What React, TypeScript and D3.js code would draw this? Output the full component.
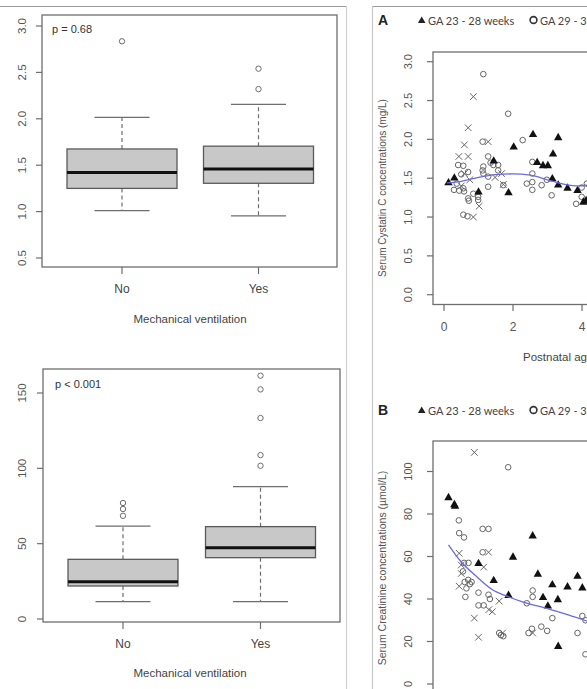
import React from "react";
import * as d3 from "d3";

// ---------- Data ----------
const groups = ["No", "Yes"];
// Cystatin C box stats (mg/L): [low whisker, Q1, median, Q3, high whisker]
const cysStats = [
  [1.01, 1.25, 1.42, 1.675, 2.015],
  [0.955, 1.305, 1.46, 1.705, 2.155],
];
const cysOutliers = [[2.835], [2.32, 2.54]];
const cysTicks = [0.5, 1.0, 1.5, 2.0, 2.5, 3.0];

// Creatinine box stats (µmol/L)
const creStats = [
  [11.5, 21.9, 24.8, 39.6, 61.7],
  [11.5, 40.7, 47.3, 61.3, 87.8],
];
const creOutliers = [[68.5, 73, 77], [101.7, 108.8, 133.4, 152.4, 161.5]];
const creTicks = [0, 50, 100, 150];

// Scatter A: cystatin C vs postnatal age
const aTriangles = [
  [0.13, 1.45], [0.3, 1.51], [1.0, 1.33], [1.44, 1.73], [2.02, 1.91], [1.87, 1.32],
  [2.58, 2.07], [2.7, 1.71], [2.87, 1.67], [3.01, 1.67], [3.16, 1.82], [3.31, 2.03],
  [3.14, 1.5], [3.31, 1.42], [3.58, 1.38], [3.87, 1.35], [4.04, 1.2], [4.12, 1.22],
];
const aCircles = [
  [1.14, 2.84], [1.86, 2.33], [1.12, 1.97], [2.28, 1.99],
  [0.41, 1.67], [0.56, 1.66], [0.37, 1.43], [0.29, 1.35], [0.44, 1.34], [0.56, 1.37],
  [0.58, 1.33], [0.7, 1.58], [0.7, 1.24], [0.72, 1.21], [0.85, 1.3], [0.99, 1.26],
  [0.56, 1.03], [0.68, 1.01], [0.99, 1.22], [0.5, 1.55],
  [1.14, 1.65], [1.14, 1.56], [1.28, 1.52], [1.28, 1.78], [1.43, 1.67], [1.57, 1.67],
  [1.57, 1.6], [1.28, 1.39], [1.72, 1.41], [1.12, 1.6], [1.35, 1.7],
  [2.56, 1.71], [2.56, 1.56], [2.56, 1.45], [2.56, 1.35], [2.4, 1.43], [2.83, 1.41],
  [2.98, 1.48], [3.12, 1.28],
  [3.83, 1.17], [3.99, 1.26], [3.99, 1.38], [4.14, 1.43],
];
const aCrosses = [
  [0.7, 2.15], [0.59, 1.93], [0.43, 1.78], [0.7, 1.78], [0.59, 1.56], [0.85, 2.55],
  [1.28, 1.97], [1.02, 1.14], [0.85, 1.0], [1.48, 1.51], [1.67, 1.56], [1.72, 1.42],
  [0.5, 1.4], [0.75, 1.48],
];
const aLoess = [
  [0.08, 1.44], [0.5, 1.46], [1.0, 1.51], [1.5, 1.545], [2.0, 1.555], [2.5, 1.54],
  [3.0, 1.48], [3.5, 1.42], [3.9, 1.4], [4.3, 1.42],
];
const aXTicks = [0, 2, 4];
const aYTicks = [0.0, 0.5, 1.0, 1.5, 2.0, 2.5, 3.0];

// Scatter B: creatinine vs postnatal age
const bTriangles = [
  [0.13, 88], [0.3, 84.7], [0.32, 84], [1.0, 57], [1.44, 49], [1.87, 42], [2.0, 60],
  [2.57, 70], [2.72, 52], [2.87, 41], [3.01, 37], [3.14, 47], [3.3, 40], [3.31, 18],
  [3.58, 46], [3.87, 51], [4.01, 45.5],
];
const bCircles = [
  [1.86, 102], [0.43, 77], [0.44, 71], [0.58, 69], [1.12, 73], [1.29, 73], [1.12, 62],
  [0.58, 57], [0.71, 57], [0.55, 53], [0.6, 48], [0.65, 45], [0.7, 49], [0.75, 47],
  [0.8, 48], [0.62, 41], [1.0, 43], [1.0, 37], [1.15, 37], [1.29, 42], [1.33, 40],
  [1.6, 24], [1.65, 23], [1.72, 22.5], [2.57, 44], [2.57, 41], [2.4, 38], [2.45, 24],
  [2.55, 26], [2.82, 27], [2.99, 25], [3.14, 31], [3.87, 24], [4.01, 32], [4.1, 30],
  [4.1, 14],
];
const bCrosses = [
  [0.88, 109], [0.44, 61.5], [1.29, 62], [1.15, 55], [0.5, 56], [0.44, 46], [0.5, 52],
  [0.88, 31], [1.0, 22], [1.3, 35], [1.4, 34], [1.6, 39], [1.7, 24], [2.57, 24],
];
const bLoess = [
  [0.13, 65.5], [0.47, 58], [0.95, 50.5], [1.44, 44], [1.75, 41.8], [2.3, 38.5],
  [3.0, 35.5], [3.6, 32.5], [4.2, 29.3],
];
const bYTicks = [0, 20, 40, 60, 80, 100];

const legendLabels = ["GA 23 - 28 weeks", "GA 29 - 36 weeks"];

// ---------- Styles ----------
const AX = "#6e6e6e";
const ARIAL = "'Liberation Sans', Arial, sans-serif";
const CAL = "Lato, 'Open Sans', sans-serif";

type Stats = number[];

function BoxPlot(props: {
  y: d3.ScaleLinear<number, number>;
  stats: Stats[];
  outliers: number[][];
  centers: number[];
  halfW: number;
}) {
  const { y, stats, outliers, centers, halfW } = props;
  return (
    <g>
      {stats.map((s, i) => {
        const cx = centers[i];
        const [lo, q1, med, q3, hi] = s;
        return (
          <g key={i}>
            <line x1={cx} x2={cx} y1={y(q3)} y2={y(hi)} stroke={AX} strokeDasharray="4,3" strokeWidth={1.2} />
            <line x1={cx} x2={cx} y1={y(q1)} y2={y(lo)} stroke={AX} strokeDasharray="4,3" strokeWidth={1.2} />
            <line x1={cx - halfW / 2} x2={cx + halfW / 2} y1={y(hi)} y2={y(hi)} stroke={AX} strokeWidth={1.3} />
            <line x1={cx - halfW / 2} x2={cx + halfW / 2} y1={y(lo)} y2={y(lo)} stroke={AX} strokeWidth={1.3} />
            <rect x={cx - halfW} y={y(q3)} width={halfW * 2} height={y(q1) - y(q3)} fill="#c8c8c8" stroke="#5a5a5a" strokeWidth={1.3} />
            <line x1={cx - halfW} x2={cx + halfW} y1={y(med)} y2={y(med)} stroke="#111" strokeWidth={3} />
            {outliers[i].map((o, j) => (
              <circle key={j} cx={cx} cy={y(o)} r={2.7} fill="none" stroke={AX} strokeWidth={1} />
            ))}
          </g>
        );
      })}
    </g>
  );
}

function BoxPanel(props: {
  y: d3.ScaleLinear<number, number>;
  ticks: number[];
  fmt: (v: number) => string;
  box: { l: number; t: number; r: number; b: number };
  centers: number[];
  stats: Stats[];
  outliers: number[][];
  ptext: string;
  pxy: [number, number];
  labelY: number;
  titleY: number;
}) {
  const { y, ticks, fmt, box, centers, stats, outliers, ptext, pxy, labelY, titleY } = props;
  return (
    <g>
      <rect x={box.l} y={box.t} width={box.r - box.l} height={box.b - box.t} fill="none" stroke={AX} strokeWidth={1.3} />
      {ticks.map((t) => (
        <g key={t}>
          <line x1={box.l - 6} x2={box.l} y1={y(t)} y2={y(t)} stroke={AX} strokeWidth={1.2} />
          <text
            transform={`translate(22,${y(t)}) rotate(-90)`}
            textAnchor="middle"
            dominantBaseline="central"
            fontFamily={ARIAL}
            fontSize={11.5}
            fill="#555"
          >
            {fmt(t)}
          </text>
        </g>
      ))}
      {centers.map((c, i) => (
        <g key={i}>
          <line x1={c} x2={c} y1={box.b} y2={box.b + 7} stroke={AX} strokeWidth={1.2} />
          <text x={c} y={labelY} textAnchor="middle" dominantBaseline="central" fontFamily={ARIAL} fontSize={12} fill="#444">
            {groups[i]}
          </text>
        </g>
      ))}
      <BoxPlot y={y} stats={stats} outliers={outliers} centers={centers} halfW={55} />
      <text x={pxy[0]} y={pxy[1]} fontFamily={ARIAL} fontSize={11} fill="#333" dominantBaseline="central">
        {ptext}
      </text>
      <text x={190} y={titleY} textAnchor="middle" dominantBaseline="central" fontFamily={ARIAL} fontSize={11.5} fill="#444">
        Mechanical ventilation
      </text>
    </g>
  );
}

function Tri(props: { x: number; y: number }) {
  const s = 4.2;
  return (
    <path
      d={`M${props.x},${props.y - s}L${props.x + s},${props.y + s * 0.75}L${props.x - s},${props.y + s * 0.75}Z`}
      fill="#111"
    />
  );
}
function Cross(props: { x: number; y: number }) {
  const s = 3.3;
  const { x, y } = props;
  return <path d={`M${x - s},${y - s}L${x + s},${y + s}M${x - s},${y + s}L${x + s},${y - s}`} stroke="#666" strokeWidth={1} fill="none" />;
}

function Scatter(props: {
  x: d3.ScaleLinear<number, number>;
  y: d3.ScaleLinear<number, number>;
  tri: number[][];
  circ: number[][];
  cross: number[][];
  loess: number[][];
}) {
  const { x, y, tri, circ, cross, loess } = props;
  const line = d3
    .line<number[]>()
    .x((d) => x(d[0]))
    .y((d) => y(d[1]))
    .curve(d3.curveMonotoneX);
  return (
    <g>
      {circ.map((d, i) => (
        <circle key={"c" + i} cx={x(d[0])} cy={y(d[1])} r={2.8} fill="none" stroke="#666" strokeWidth={1} />
      ))}
      {cross.map((d, i) => (
        <Cross key={"x" + i} x={x(d[0])} y={y(d[1])} />
      ))}
      {tri.map((d, i) => (
        <Tri key={"t" + i} x={x(d[0])} y={y(d[1])} />
      ))}
      <path d={line(loess) || ""} fill="none" stroke="#6a6ae0" strokeWidth={1.3} />
    </g>
  );
}

function Legend(props: { y: number; letter: string }) {
  const { y, letter } = props;
  return (
    <g>
      <text x={378} y={y} fontFamily={ARIAL} fontWeight="bold" fontSize={14} dominantBaseline="central" fill="#222">
        {letter}
      </text>
      <path d={`M421.7,${y - 3.5}L425.5,${y + 3}L417.9,${y + 3}Z`} fill="#222" />
      <text x={428} y={y} fontFamily={CAL} fontSize={11} dominantBaseline="central" fill="#444">
        {legendLabels[0]}
      </text>
      <circle cx={533.5} cy={y} r={3.4} fill="none" stroke="#333" strokeWidth={1.6} />
      <text x={540} y={y} fontFamily={CAL} fontSize={11} dominantBaseline="central" fill="#444">
        {legendLabels[1]}
      </text>
    </g>
  );
}

export default function App() {
  const yCys = d3.scaleLinear().domain([0.5, 3.0]).range([258, 26]);
  const yCre = d3.scaleLinear().domain([0, 150]).range([619, 393]);

  const xAge = d3.scaleLinear().domain([0, 4]).range([444, 582]);
  const yA = d3.scaleLinear().domain([0, 3]).range([294.7, 61.7]);
  const yB = d3.scaleLinear().domain([0, 100]).range([684, 471.5]);

  return (
    <svg
      width={587}
      height={689}
      style={{ position: "absolute", left: 0, top: 0, background: "#fff" }}
      fontFamily={ARIAL}
    >
      <rect x={0} y={0} width={587} height={689} fill="#fff" />
      {/* panel frames */}
      <line x1={0} x2={346} y1={6.5} y2={6.5} stroke="#9a9a9a" strokeWidth={1} />
      <line x1={346.5} x2={346.5} y1={6} y2={689} stroke="#d0d0d0" strokeWidth={1.2} />
      <line x1={372} x2={587} y1={6.5} y2={6.5} stroke="#9a9a9a" strokeWidth={1} />
      <line x1={372.5} x2={372.5} y1={6} y2={689} stroke="#c8c8c8" strokeWidth={1.2} />

      <BoxPanel
        y={yCys}
        ticks={cysTicks}
        fmt={d3.format(".1f")}
        box={{ l: 42, t: 15, r: 337, b: 267 }}
        centers={[122, 258.5]}
        stats={cysStats}
        outliers={cysOutliers}
        ptext="p = 0.68"
        pxy={[52, 29]}
        labelY={289}
        titleY={319}
      />
      <BoxPanel
        y={yCre}
        ticks={creTicks}
        fmt={d3.format("d")}
        box={{ l: 43, t: 369, r: 340, b: 622 }}
        centers={[123, 260.5]}
        stats={creStats}
        outliers={creOutliers}
        ptext="p < 0.001"
        pxy={[55, 384]}
        labelY={644}
        titleY={673}
      />

      {/* Panel A */}
      <Legend y={20} letter="A" />
      <rect x={433} y={52} width={200} height={252.5} fill="none" stroke={AX} strokeWidth={1.3} />
      {aYTicks.map((t) => (
        <g key={t}>
          <line x1={427} x2={433} y1={yA(t)} y2={yA(t)} stroke={AX} strokeWidth={1.2} />
          <text
            transform={`translate(408,${yA(t)}) rotate(-90)`}
            textAnchor="middle"
            dominantBaseline="central"
            fontSize={11}
            fill="#555"
          >
            {d3.format(".1f")(t)}
          </text>
        </g>
      ))}
      {aXTicks.map((t) => (
        <g key={t}>
          <line x1={xAge(t)} x2={xAge(t)} y1={304.5} y2={311} stroke={AX} strokeWidth={1.2} />
          <text x={xAge(t)} y={327} textAnchor="middle" dominantBaseline="central" fontSize={12} fill="#555">
            {t}
          </text>
        </g>
      ))}
      <text
        transform={`translate(382,188) rotate(-90)`}
        textAnchor="middle"
        dominantBaseline="central"
        fontSize={10}
        fill="#555"
      >
        Serum Cystatin C concentrations (mg/L)
      </text>
      <text x={523} y={357} dominantBaseline="central" fontSize={11.5} fill="#444">
        Postnatal age (weeks)
      </text>
      <Scatter x={xAge} y={yA} tri={aTriangles} circ={aCircles} cross={aCrosses} loess={aLoess} />

      {/* Panel B */}
      <Legend y={410} letter="B" />
      <rect x={433} y={441} width={200} height={260} fill="none" stroke={AX} strokeWidth={1.3} />
      {bYTicks.map((t) => (
        <g key={t}>
          <line x1={427} x2={433} y1={yB(t)} y2={yB(t)} stroke={AX} strokeWidth={1.2} />
          <text
            transform={`translate(408,${yB(t)}) rotate(-90)`}
            textAnchor="middle"
            dominantBaseline="central"
            fontSize={11}
            fill="#555"
          >
            {t}
          </text>
        </g>
      ))}
      <text
        transform={`translate(382,568) rotate(-90)`}
        textAnchor="middle"
        dominantBaseline="central"
        fontSize={10.5}
        fill="#555"
      >
        Serum Creatinine concentrations (µmol/L)
      </text>
      <Scatter x={xAge} y={yB} tri={bTriangles} circ={bCircles} cross={bCrosses} loess={bLoess} />
    </svg>
  );
}
